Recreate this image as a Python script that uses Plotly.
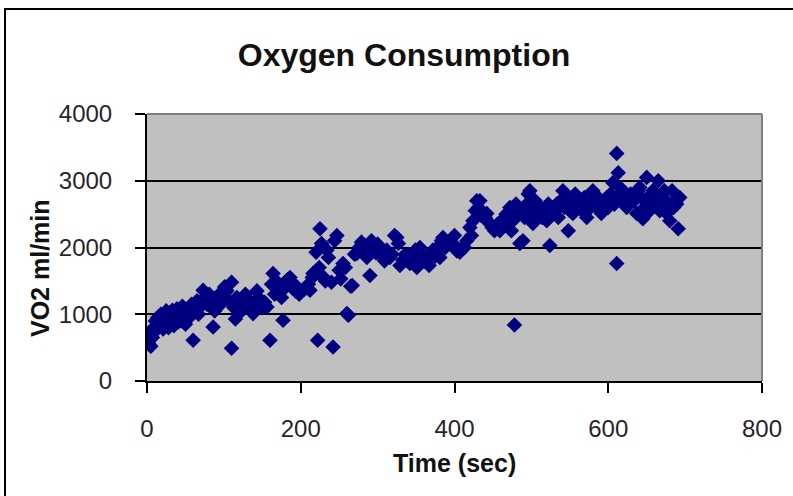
import plotly.graph_objects as go

# Oxygen uptake recorded during an incremental exercise test
time_sec = [
    0, 2, 5, 7, 9, 11, 12, 14, 16, 18, 19, 21, 23, 25, 26, 28, 30, 31, 33, 35,
    37, 39, 40, 42, 44, 46, 48, 50, 52, 55, 58, 60, 62, 65, 67, 70, 73, 75, 78, 81,
    84, 86, 88, 91, 94, 96, 99, 101, 104, 107, 110, 110, 113, 115, 117, 120, 123, 126, 128, 130,
    133, 136, 138, 141, 143, 145, 147, 150, 153, 156, 160, 162, 164, 166, 168, 171, 173, 175, 177, 180,
    183, 186, 188, 190, 193, 195, 198, 205, 210, 212, 215, 216, 218, 220, 222, 224, 225, 227, 229, 232,
    234, 236, 240, 242, 244, 247, 250, 252, 255, 258, 260, 262, 265, 267, 270, 273, 276, 279, 282, 286,
    288, 290, 292, 295, 298, 300, 303, 306, 309, 312, 316, 319, 322, 325, 327, 329, 333, 336, 338, 342,
    346, 349, 351, 355, 358, 361, 364, 367, 370, 372, 375, 378, 381, 383, 385, 388, 391, 394, 398, 400,
    403, 407, 411, 413, 416, 420, 422, 424, 427, 429, 431, 433, 435, 437, 440, 442, 444, 446, 449, 452,
    456, 459, 461, 464, 467, 470, 472, 474, 476, 478, 480, 482, 485, 487, 489, 491, 494, 496, 498, 500,
    502, 505, 508, 511, 514, 517, 520, 522, 524, 526, 529, 531, 533, 535, 538, 541, 543, 546, 548, 550,
    552, 554, 557, 560, 563, 566, 569, 572, 574, 577, 580, 582, 585, 587, 589, 591, 594, 596, 598, 600,
    603, 606, 608, 610, 611, 611, 613, 615, 617, 620, 622, 624, 627, 629, 632, 634, 637, 639, 641, 643,
    645, 647, 650, 652, 654, 656, 658, 660, 662, 665, 667, 669, 671, 673, 676, 678, 680, 683, 685, 687,
    689, 691, 693,
]
vo2_ml_min = [
    700, 560, 520, 650, 800, 900, 760, 950, 850, 1000, 880, 780, 950, 1050, 870, 800, 980, 900, 1060, 830,
    950, 1080, 880, 1000, 900, 1120, 960, 850, 1040, 950, 1150, 610, 1100, 1200, 1000, 1120, 1360, 1250, 1150, 1300,
    1220, 810, 1050, 1210, 1300, 1150, 1280, 1410, 1350, 1200, 1480, 490, 1100, 930, 1250, 1210, 1050, 1150, 1300, 1110,
    1200, 1050, 1010, 1150, 1350, 1250, 1210, 1100, 1180, 1110, 610, 1450, 1610, 1300, 1500, 1420, 1360, 1250, 910, 1400,
    1520, 1550, 1480, 1430, 1350, 1410, 1300, 1380, 1450, 1360, 1550, 1610, 1630, 1930, 610, 1700, 2280, 2060, 1560, 1500,
    1960, 1850, 1480, 510, 2100, 2180, 1660, 1530, 1760, 1700, 1010, 985, 1420, 1430, 1900, 1910, 2000, 2080, 1950, 1850,
    1990, 1580, 2100, 2000, 1920, 2050, 1960, 1880, 1800, 1960, 1850, 1900, 2180, 2150, 2060, 1730, 1810, 1900, 1810, 1760,
    1850, 1960, 1700, 2000, 1900, 1800, 1850, 1730, 1920, 1960, 1870, 2000, 1850, 2100, 2150, 2000, 2050, 2060, 2060, 2180,
    1950, 1930, 2000, 2000, 2100, 2300, 2180, 2400, 2550, 2700, 2600, 2700, 2480, 2510, 2450, 2510, 2380, 2360, 2300, 2250,
    2350, 2250, 2400, 2320, 2500, 2450, 2600, 2250, 2400, 840, 2650, 2550, 2060, 2510, 2100, 2450, 2650, 2800, 2850, 2550,
    2360, 2700, 2500, 2600, 2450, 2550, 2400, 2650, 2030, 2500, 2600, 2550, 2650, 2450, 2700, 2850, 2600, 2750, 2250, 2550,
    2650, 2510, 2800, 2600, 2700, 2550, 2750, 2450, 2650, 2600, 2850, 2700, 2600, 2750, 2600, 2510, 2650, 2700, 2750, 2600,
    2800, 2970, 2650, 2700, 1760, 3410, 3120, 2800, 2880, 2750, 2650, 2600, 2750, 2800, 2750, 2700, 2510, 2850, 2900, 2750,
    2430, 2600, 3050, 2700, 2550, 2800, 2850, 2650, 2750, 3000, 2550, 2700, 2750, 2850, 2510, 2650, 2400, 2850, 2600, 2700,
    2650, 2280, 2750,
]

x_ticks = [0, 200, 400, 600, 800]
y_ticks = [0, 1000, 2000, 3000, 4000]

TITLE = "Oxygen Consumption"
X_TITLE = "Time (sec)"
Y_TITLE = "VO2 ml/min"

FONT = "Liberation Sans, Arial, sans-serif"
INK = "#2b1f2b"

fig = go.Figure(
    go.Scatter(
        x=time_sec,
        y=vo2_ml_min,
        mode="markers",
        marker=dict(symbol="diamond", size=12, color="#000080",
                    line=dict(width=0)),
        hoverinfo="x+y",
    )
)

W, H = 793, 496
L, R, T, B = 147, 31, 114, 115
pw, ph = W - L - R, H - T - B


def px_x(px):
    return (px - L) / pw


def px_y(py):
    return (H - B - py) / ph


fig.update_layout(
    width=W,
    height=H,
    margin=dict(l=L, r=R, t=T, b=B, pad=0),
    paper_bgcolor="white",
    plot_bgcolor="#c0c0c0",
    showlegend=False,
    font=dict(family=FONT, color=INK),
    title=dict(
        text="<b>%s</b>" % TITLE,
        x=px_x(404), xref="paper", xanchor="center",
        y=1 - 55 / H, yref="container", yanchor="middle",
        font=dict(size=32, color="#111111", family=FONT),
    ),
    xaxis=dict(
        range=[0, 800],
        tickvals=x_ticks,
        ticktext=[str(v) for v in x_ticks],
        ticks="outside", ticklen=10, tickwidth=2, tickcolor="black",
        ticklabelstandoff=15,
        tickfont=dict(size=24, color=INK),
        showline=True, linecolor="black", linewidth=2,
        showgrid=False, zeroline=False,
        fixedrange=True,
    ),
    yaxis=dict(
        range=[0, 4000],
        tickvals=y_ticks,
        ticktext=[str(v) for v in y_ticks],
        ticks="outside", ticklen=10, tickwidth=2, tickcolor="black",
        ticklabelstandoff=18,
        tickfont=dict(size=24, color=INK),
        showline=True, linecolor="black", linewidth=2,
        showgrid=True, gridcolor="black", gridwidth=2,
        zeroline=False,
        fixedrange=True,
    ),
    annotations=[
        dict(
            text="<b>%s</b>" % X_TITLE,
            x=px_x(454), y=px_y(463), xref="paper", yref="paper",
            xanchor="center", yanchor="middle", showarrow=False,
            font=dict(size=25, color="#111111"),
        ),
        dict(
            text="<b>%s</b>" % Y_TITLE,
            x=px_x(40), y=px_y(268), xref="paper", yref="paper",
            xanchor="center", yanchor="middle", showarrow=False,
            textangle=-90,
            font=dict(size=25, color="#111111"),
        ),
    ],
    shapes=[
        # thin grey edge on the top and right of the plotting area
        dict(type="line", xref="paper", yref="paper", x0=0, x1=1, y0=1, y1=1,
             line=dict(color="#808080", width=2), layer="above"),
        dict(type="line", xref="paper", yref="paper", x0=1, x1=1, y0=0, y1=1,
             line=dict(color="#808080", width=2), layer="above"),
        # outer chart frame
        dict(type="rect", xref="paper", yref="paper",
             x0=px_x(5), x1=px_x(805), y0=px_y(510), y1=px_y(9),
             line=dict(color="black", width=2), fillcolor="rgba(0,0,0,0)"),
    ],
)

fig.write_html("out.html")
